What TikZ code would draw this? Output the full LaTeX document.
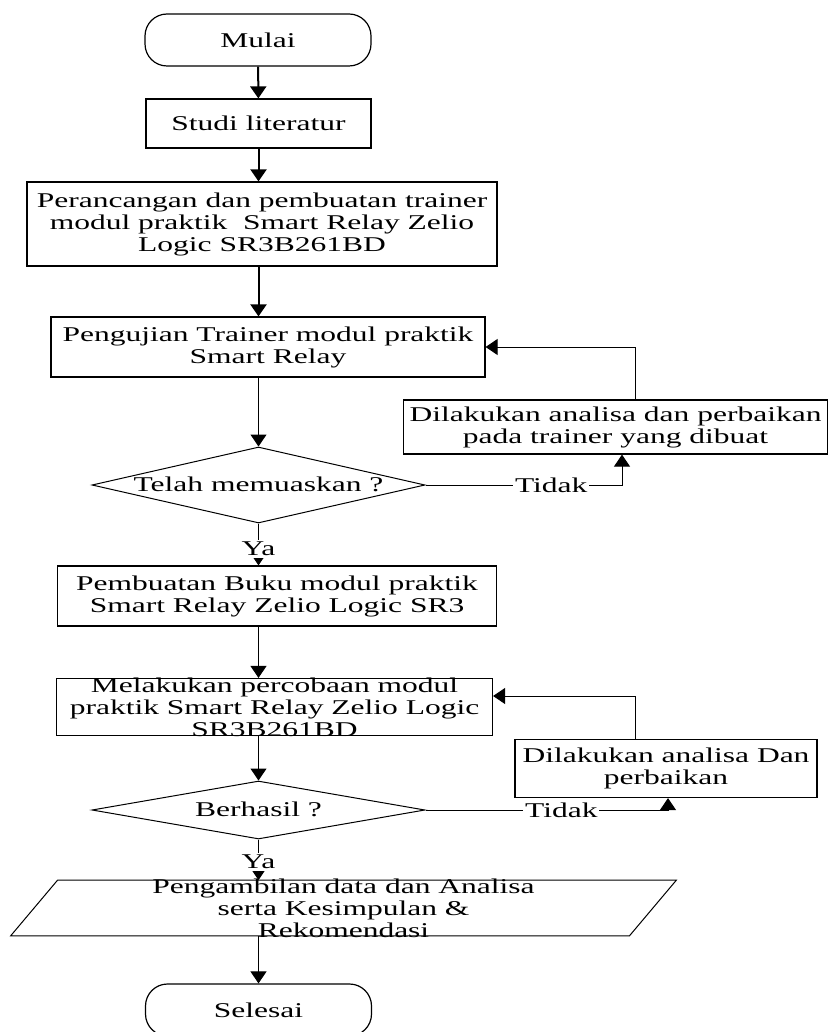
\documentclass[tikz,border=0pt]{standalone}
\usepackage{fontspec}
\setmainfont{Liberation Serif}[FakeStretch=1.5]
\usetikzlibrary{arrows.meta,shapes.geometric}

\tikzset{
  terminal/.style={draw,line width=0.6pt,rounded corners=11pt,minimum width=113pt,minimum height=26pt,inner sep=0pt},
  proses/.style={draw,line width=0.6pt,align=center,inner sep=0pt},
  cek/.style={draw,diamond,line width=0.5pt,inner sep=0pt,text height=6pt,text depth=0pt},
  alur/.style={-{Triangle[width=8pt,length=6pt]},line width=0.5pt},
  tebal/.style={alur,line width=1pt},
  ket/.style={fill=white,inner sep=1pt}
}

\begin{document}
\begin{tikzpicture}[x=0.5pt,y=-0.5pt,every node/.style={font=\fontsize{10.5}{11}\selectfont}]
  \useasboundingbox (0,0) rectangle (828,1032);

  % alur utama
  \node[terminal] (mulai) at (258,40) {Mulai};
  \node[proses,minimum width=112.5pt,minimum height=24.5pt] (studi) at (258.5,123.5) {Studi literatur};
  \node[proses,minimum width=235pt,minimum height=42pt] (rancang) at (262,224)
    {Perancangan dan pembuatan trainer\\modul praktik\ \ Smart Relay Zelio\\Logic SR3B261BD};
  \node[proses,minimum width=217pt,minimum height=30pt] (uji) at (268,347)
    {Pengujian Trainer modul praktik\\Smart Relay};
  \node[cek,aspect=4.38,minimum width=166.5pt,minimum height=38pt] (cek1) at (258.5,485) {Telah memuaskan ?};
  \node[proses,minimum width=219.5pt,minimum height=30pt] (buku) at (277,596)
    {Pembuatan Buku modul praktik\\Smart Relay Zelio Logic SR3};
  \node[proses,minimum width=218pt,minimum height=28.5pt,
    label={[align=center]center:Melakukan percobaan modul\\praktik Smart Relay Zelio Logic\\SR3B261BD}] (coba) at (274.5,707) {};
  \node[cek,aspect=5.74,minimum width=166.5pt,minimum height=29pt] (cek2) at (258.5,810) {Berhasil ?};
  \node[minimum width=309pt,minimum height=27.5pt,inner sep=0pt,
    label={[align=center]center:Pengambilan data dan Analisa\\serta Kesimpulan \&\\Rekomendasi}] (data) at (343.5,908) {};
  \node[terminal] (selesai) at (258.5,1010) {Selesai};

  % bentuk jajaran genjang data
  \draw[line width=0.5pt] ([xshift=11.75pt]data.north west) -- ([xshift=11.75pt]data.north east)
    -- ([xshift=-11.75pt]data.south east) -- ([xshift=-11.75pt]data.south west) -- cycle;

  % perbaikan
  \node[proses,minimum width=212pt,minimum height=27pt] (perbaiki1) at (615.5,427)
    {Dilakukan analisa dan perbaikan\\pada trainer yang dibuat};
  \node[proses,minimum width=151pt,minimum height=29pt] (perbaiki2) at (666,768.5)
    {Dilakukan analisa Dan\\perbaikan};

  \coordinate (balik) at (635,0);
  \coordinate (naik1) at (622,0);
  \coordinate (naik2) at (668,0);

  \draw[tebal] (mulai) -- (studi);
  \draw[tebal] (studi) -- (studi.south |- rancang.north);
  \draw[tebal] (rancang.south -| studi.south) -- (uji.north -| studi.south);
  \draw[alur] (uji.south -| cek1.north) -- (cek1);
  \draw[alur] (cek1) -- node[ket,pos=0.6]{Ya} (buku.north -| cek1.south);
  \draw[alur] (buku.south -| cek1.south) -- (coba.north -| cek1.south);
  \draw[alur] (coba.south -| cek2.north) -- (cek2);
  \draw[alur] (cek2) -- node[ket,pos=0.55]{Ya} (data.north -| cek2.south);
  \draw[alur] (data.south -| selesai.north) -- (selesai);

  \draw[alur] (cek1.east) -| node[ket,pos=0.32]{Tidak} (perbaiki1.south -| naik1);
  \draw[alur] (perbaiki1.north -| balik) |- (uji.east);
  \draw[alur] (cek2.east) -| node[ket,pos=0.28]{Tidak} (perbaiki2.south -| naik2);
  \draw[alur] (perbaiki2.north -| balik) |- ([yshift=5.5pt]coba.east);
\end{tikzpicture}
\end{document}
